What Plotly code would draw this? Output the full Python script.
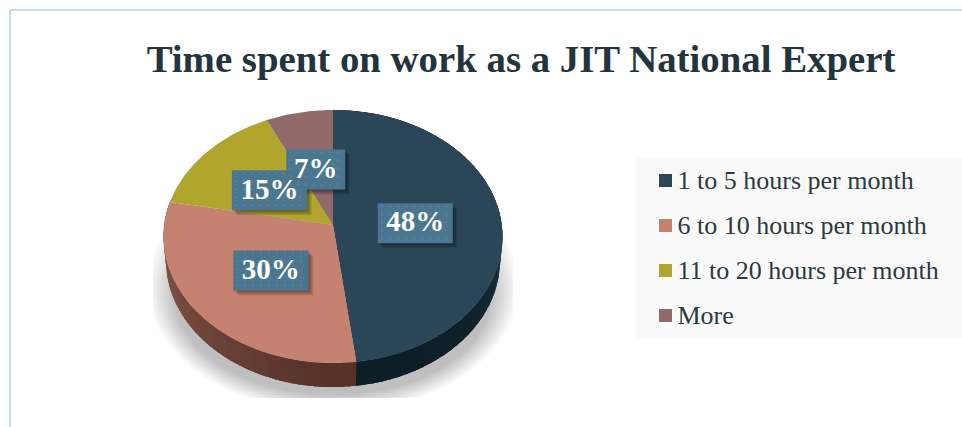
import numpy as np
import plotly.graph_objects as go

# ---- data ----
categories = ["1 to 5 hours per month", "6 to 10 hours per month", "11 to 20 hours per month", "More"]
values = [48, 30, 15, 7]
label_texts = ["48%", "30%", "15%", "7%"]
colors = ["#2b4757", "#c58270", "#b0a62e", "#916a6a"]
title_text = "Time spent on work as a JIT National Expert"

# ---- geometry / style ----
W, H = 962, 427
CX, CY, RX, RY, K = 333.0, 225.0, 168.8, 125.5, 0.0909
DEPTH = 24.0
FONT = "Liberation Serif"
LEGEND_X, LEGEND_Y0, LEGEND_STEP = 665.5, 180.5, 45.0


def project(theta, r=1.0):
    u, v = r * np.sin(theta), r * np.cos(theta)
    w = 1 + K * v
    return CX + RX * u / w, CY - RY * v / w


def poly(x, y, color, **kw):
    return go.Scatter(x=list(x), y=list(y), mode="lines", fill="toself", fillcolor=color,
                      line=dict(width=0, color=color), hoverinfo="skip", showlegend=False, **kw)


def mix(c1, c2, t):
    a = np.array(c1, float)
    b = np.array(c2, float)
    r = a + (b - a) * t
    return "rgb(%d,%d,%d)" % tuple(r)


def wall_points(th):
    x, y = project(th)
    xb = 333 + (x - 333) * 0.985
    yb = y + DEPTH
    return np.concatenate([x, xb[::-1]]), np.concatenate([y, yb[::-1]])


fig = go.Figure()

# soft ground shadow
for i in range(16):
    t = i / 15
    th = np.linspace(0, 2 * np.pi, 120)
    sx = 333 + (186 - 28 * t) * np.sin(th)
    sy = 285 + (128 - 30 * t) * np.cos(th) + 12 * t
    sx = np.clip(sx, 153, 513)
    sy = np.clip(sy, 0, 398)
    fig.add_trace(poly(sx, sy, "rgba(0,0,0,0.017)"))

# side wall: a solid base, then thin strips for its shading
fractions = np.cumsum([0] + values) / sum(values)
wall_shades = {
    0: ((34, 58, 70), (12, 30, 38)),
    1: ((86, 50, 41), (135, 88, 76)),
}
for idx in (0, 1):
    a0, a1 = 2 * np.pi * fractions[idx], 2 * np.pi * fractions[idx + 1]
    px, py = wall_points(np.linspace(a0, a1, 200))
    fig.add_trace(poly(px, py, mix(wall_shades[idx][0], wall_shades[idx][1], 0.5)))
    edges = np.linspace(a0, a1, 61)
    for j in range(60):
        px, py = wall_points(np.linspace(edges[j], edges[j + 1] + 0.015, 4))
        if idx == 0:
            t = np.clip((np.pi - edges[j]) / (np.pi * 0.5), 0, 1)
            c = mix(wall_shades[0][1], wall_shades[0][0], t ** 3)
        else:
            t = np.clip((edges[j] - np.pi) / (np.pi * 0.5), 0, 1)
            c = mix(wall_shades[1][0], wall_shades[1][1], t)
        fig.add_trace(poly(px, py, c))

# top face wedges
for i, val in enumerate(values):
    th = np.linspace(2 * np.pi * fractions[i], 2 * np.pi * fractions[i + 1], 100)
    x, y = project(th)
    fig.add_trace(poly(np.r_[CX, x, CX], np.r_[CY, y, CY], colors[i]))

# label boxes at each wedge's middle
box_info = []
for i, txt in enumerate(label_texts):
    mid = 2 * np.pi * (fractions[i] + fractions[i + 1]) / 2
    lx, ly = project(mid, 0.49)
    hw = (16 * len(txt) + 27) / 2
    box_info.append((float(lx), float(ly) + 2, hw, txt))

for lx, ly, hw, txt in box_info:
    for s in range(5):
        o = 1 + s
        fig.add_trace(poly([lx - hw + o, lx + hw + o, lx + hw + o, lx - hw + o, lx - hw + o],
                           [ly - 20 + o, ly - 20 + o, ly + 20 + o, ly + 20 + o, ly - 20 + o],
                           "rgba(0,0,0,0.09)"))
for lx, ly, hw, txt in box_info:
    fig.add_trace(poly([lx - hw, lx + hw, lx + hw, lx - hw, lx - hw],
                       [ly - 20, ly - 20, ly + 20, ly + 20, ly - 20], "#4a7690"))
    gx, gy = np.meshgrid(np.arange(lx - hw + 4, lx + hw - 1, 8), np.arange(ly - 17, ly + 19, 8))
    fig.add_trace(go.Scatter(x=gx.ravel(), y=gy.ravel(), mode="markers", hoverinfo="skip", showlegend=False,
                             marker=dict(size=2, color="#5a86a0", line=dict(width=0))))
for lx, ly, hw, txt in box_info:
    fig.add_trace(go.Scatter(x=[lx], y=[ly + 1], mode="text", text=[txt], textposition="middle center",
                             hoverinfo="skip", showlegend=False,
                             textfont=dict(family=FONT, size=29, color="white", weight="bold")))

# legend entries
for i, c in enumerate(categories):
    yy = LEGEND_Y0 + i * LEGEND_STEP
    fig.add_trace(go.Scatter(x=[LEGEND_X], y=[yy], mode="markers", hoverinfo="skip", showlegend=False,
                             marker=dict(symbol="square", size=13, color=colors[i], line=dict(width=0))))
    fig.add_trace(go.Scatter(x=[LEGEND_X + 12], y=[yy + 2], mode="text", text=[c], textposition="middle right",
                             hoverinfo="skip", showlegend=False,
                             textfont=dict(family=FONT, size=26, color="#2b3a40")))

fig.add_shape(type="rect", x0=635, x1=962, y0=158, y1=338, fillcolor="#f9f9f9", line_width=0, layer="below")
# frame lines
fig.add_shape(type="line", x0=10, x1=962, y0=10, y1=10, line=dict(color="#c8dbe8", width=2), layer="below")
fig.add_shape(type="line", x0=10, x1=10, y0=10, y1=427, line=dict(color="#c8dbe8", width=2), layer="below")

fig.update_layout(
    width=W, height=H, autosize=False,
    margin=dict(l=0, r=0, t=0, b=0),
    paper_bgcolor="white", plot_bgcolor="white",
    showlegend=False,
    xaxis=dict(range=[0, W], visible=False, fixedrange=True),
    yaxis=dict(range=[H, 0], visible=False, fixedrange=True),
    title=dict(text="<b>%s</b>" % title_text, x=521 / W, xanchor="center", y=1 - 58.5 / H, yanchor="middle",
               font=dict(family=FONT, size=38.8, color="#22343c")),
)
fig.write_html("out.html", config=dict(displayModeBar=False),
               post_script="document.body.style.margin='0';document.body.style.overflow='hidden';")
